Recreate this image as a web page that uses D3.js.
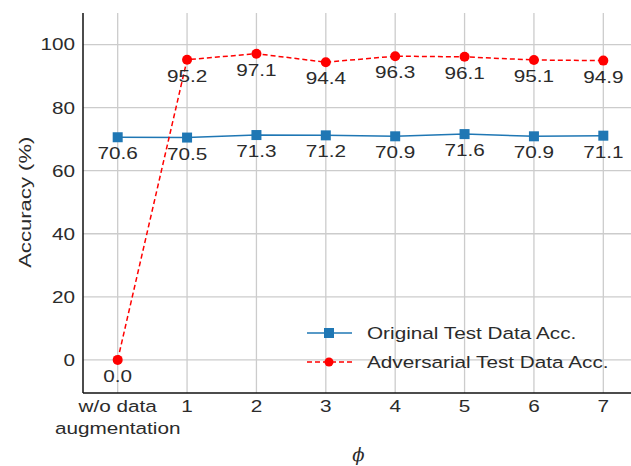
<!DOCTYPE html>
<html>
<head>
<meta charset="utf-8">
<script src="https://cdn.jsdelivr.net/npm/d3@7"></script>
<style>
  body { margin: 0; background: #fff; }
  text { font-family: "Liberation Sans", Arial, sans-serif; fill: #2b2b2b; }
</style>
</head>
<body>
<div id="chart"></div>
<script>
// data
let categories = ["w/o data\naugmentation", "1", "2", "3", "4", "5", "6", "7"];
let originalAcc = [70.6, 70.5, 71.3, 71.2, 70.9, 71.6, 70.9, 71.1];
let adversarialAcc = [0.0, 95.2, 97.1, 94.4, 96.3, 96.1, 95.1, 94.9];
let yTicks = [0, 20, 40, 60, 80, 100];

let svgWidth = 631, svgHeight = 466;
let margin = { top: 13, right: 0, bottom: 73, left: 83 };
let graphHeight = svgHeight - margin.top - margin.bottom;

// the original figure's text is wider than Liberation Sans
let stretch = 1.22;
let fontSize = 17;

let svg = d3.select("#chart").append("svg")
    .attr("width", svgWidth)
    .attr("height", svgHeight);

let g = svg.append("g")
    .attr("transform", "translate(" + margin.left + "," + margin.top + ")");

// x index scale, right end goes a bit past the window
let x = d3.scaleLinear().domain([-0.5, 7.5]).range([0, 555]);
let y = d3.scaleLinear().domain([-10.5, 110]).range([graphHeight, 0]);

//helper to put stretched text at a point
function addText(parent, px, py, str, anchor) {
    return parent.append("g")
        .attr("transform", "translate(" + px + "," + py + ") scale(" + stretch + ",1)")
        .append("text")
        .attr("dy", "0.35em")
        .attr("text-anchor", anchor || "middle")
        .style("font-size", fontSize + "px")
        .text(str);
}

//grid
g.selectAll("line.vgrid")
    .data(categories)
    .enter().append("line")
    .attr("x1", (d, i) => x(i)).attr("x2", (d, i) => x(i))
    .attr("y1", 0).attr("y2", graphHeight)
    .style("stroke", "#cccccc").style("stroke-width", 1.3);

g.selectAll("line.hgrid")
    .data(yTicks)
    .enter().append("line")
    .attr("x1", 0).attr("x2", x(7.5))
    .attr("y1", d => y(d)).attr("y2", d => y(d))
    .style("stroke", "#cccccc").style("stroke-width", 1.3);

// axes spines
g.append("line").attr("x1", 0).attr("x2", 0).attr("y1", 0).attr("y2", graphHeight)
    .style("stroke", "#111").style("stroke-width", 1.5);
g.append("line").attr("x1", 0).attr("x2", x(7.5)).attr("y1", graphHeight).attr("y2", graphHeight)
    .style("stroke", "#111").style("stroke-width", 1.5);

// y tick labels
yTicks.forEach(function(d) {
    addText(g, -8, y(d), d, "end");
});

// x tick labels (multi line)
categories.forEach(function(c, i) {
    c.split("\n").forEach(function(line, k) {
        addText(g, x(i), graphHeight + 13 + k * 22, line);
    });
});

// axis labels
svg.append("g")
    .attr("transform", "translate(25," + (margin.top + y(50)) + ") rotate(-90) scale(1.3,1)")
    .append("text")
    .attr("dy", "0.35em")
    .attr("text-anchor", "middle")
    .style("font-size", "17px")
    .text("Accuracy (%)");

svg.append("text")
    .attr("x", margin.left + x(3.5) - 2).attr("y", 461)
    .attr("text-anchor", "middle")
    .style("font-size", "18px")
    .style("font-family", "DejaVu Serif, serif")
    .style("font-style", "italic")
    .text("ϕ");

//lines
let origLine = d3.line().x((d, i) => x(i)).y(d => y(d));
let advLine = d3.line().x((d, i) => x(i)).y(d => y(d));

g.append("path")
    .attr("d", origLine(originalAcc))
    .style("fill", "none").style("stroke", "#1f77b4").style("stroke-width", 1.5);

g.append("path")
    .attr("d", advLine(adversarialAcc))
    .style("fill", "none").style("stroke", "#ff0000").style("stroke-width", 1.5)
    .style("stroke-dasharray", "5, 3");

g.selectAll("rect.orig")
    .data(originalAcc)
    .enter().append("rect")
    .attr("x", (d, i) => x(i) - 5).attr("y", d => y(d) - 5)
    .attr("width", 10).attr("height", 10)
    .style("fill", "#1f77b4");

g.selectAll("circle.adv")
    .data(adversarialAcc)
    .enter().append("circle")
    .attr("cx", (d, i) => x(i)).attr("cy", d => y(d))
    .attr("r", 5)
    .style("fill", "#ff0000");

// value labels
originalAcc.forEach(function(d, i) {
    addText(g, x(i), y(d) + 16, d.toFixed(1));
});
adversarialAcc.forEach(function(d, i) {
    addText(g, x(i), y(d) + 16, d.toFixed(1));
});

// legend
let legend = svg.append("g").attr("transform", "translate(307,333)");
legend.append("line").attr("x1", 0).attr("x2", 45).attr("y1", 0).attr("y2", 0)
    .style("stroke", "#1f77b4").style("stroke-width", 1.5);
legend.append("rect").attr("x", 17).attr("y", -5).attr("width", 10).attr("height", 10)
    .style("fill", "#1f77b4");
addText(legend, 60, 0, "Original Test Data Acc.", "start");

legend.append("line").attr("x1", 0).attr("x2", 45).attr("y1", 29).attr("y2", 29)
    .style("stroke", "#ff0000").style("stroke-width", 1.5).style("stroke-dasharray", "5, 3");
legend.append("circle").attr("cx", 22).attr("cy", 29).attr("r", 4.5)
    .style("fill", "#ff0000");
addText(legend, 60, 29, "Adversarial Test Data Acc.", "start");
</script>
</body>
</html>
